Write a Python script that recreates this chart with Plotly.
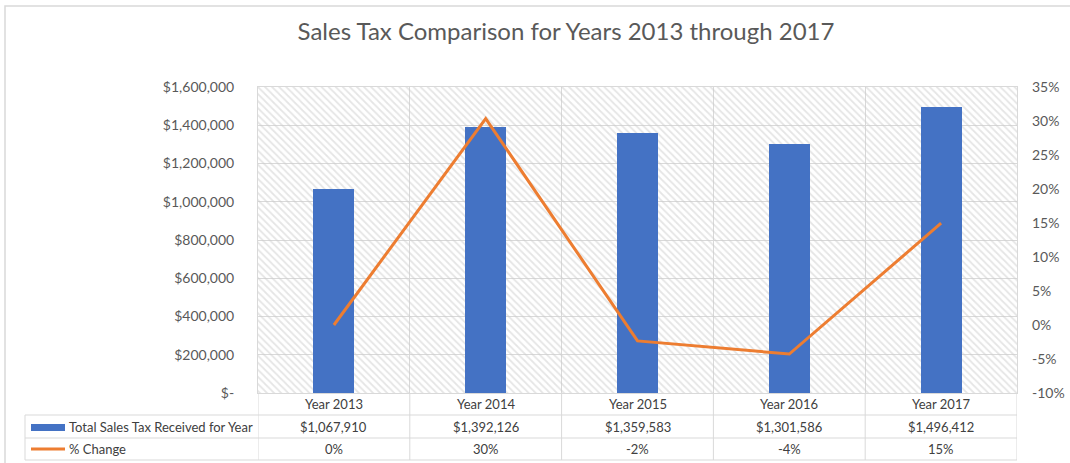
import plotly.graph_objects as go

# ---- data ----
categories = ["Year 2013", "Year 2014", "Year 2015", "Year 2016", "Year 2017"]
sales_tax = [1067910, 1392126, 1359583, 1301586, 1496412]
pct_change = [0.0, 0.3036, -0.0234, -0.0427, 0.1497]
sales_labels = ["$1,067,910", "$1,392,126", "$1,359,583", "$1,301,586", "$1,496,412"]
pct_labels = ["0%", "30%", "-2%", "-4%", "15%"]
series_names = ["Total Sales Tax Received for Year", "% Change"]
left_ticks = [0, 200000, 400000, 600000, 800000, 1000000, 1200000, 1400000, 1600000]
left_ticktext = ["$-", "$200,000", "$400,000", "$600,000", "$800,000",
                 "$1,000,000", "$1,200,000", "$1,400,000", "$1,600,000"]
right_ticks = [-0.10, -0.05, 0.0, 0.05, 0.10, 0.15, 0.20, 0.25, 0.30, 0.35]
right_ticktext = ["-10%", "-5%", "0%", "5%", "10%", "15%", "20%", "25%", "30%", "35%"]
title_text = "Sales Tax Comparison for Years 2013 through 2017"

# ---- style ----
W, H = 1070, 463
L, R, T, B = 258, 1017, 87, 393
BLUE = "#4472C4"
ORANGE = "#ED7D31"
GRID = "#d9d9d9"
TXT = "#595959"
FONT = "Lato"


def xp(px):
    return (px - L) / (R - L)


def yp(py):
    return (B - py) / (B - T)


n = len(categories)
xs = list(range(n))
y_range = [left_ticks[0], left_ticks[-1]]

fig = go.Figure()

# hatched plot-area background (decoration)
fig.add_trace(go.Bar(
    x=[(n - 1) / 2], y=[y_range[1] - y_range[0]], base=[y_range[0]], width=[n],
    marker=dict(color="rgba(0,0,0,0)", line=dict(width=0),
                pattern=dict(shape="\\", fgcolor="#cccccc", bgcolor="rgba(0,0,0,0)",
                             size=5, solidity=0.35)),
    hoverinfo="skip", showlegend=False,
))

fig.add_trace(go.Bar(
    x=xs, y=sales_tax, width=0.27, name=series_names[0],
    marker=dict(color=BLUE, line=dict(width=0)), showlegend=False,
))

fig.add_trace(go.Scatter(
    x=xs, y=pct_change, yaxis="y2", mode="lines", name=series_names[1],
    line=dict(color=ORANGE, width=3), showlegend=False,
))

fig.update_layout(
    width=W, height=H,
    margin=dict(l=L, r=W - R, t=T, b=H - B, pad=0, autoexpand=False),
    paper_bgcolor="white", plot_bgcolor="white",
    barmode="overlay", bargap=0,
    font=dict(family=FONT, color=TXT, size=14),
    title=dict(text=title_text, xref="container", yref="container",
               x=566 / W, y=1 - 32 / H, xanchor="center", yanchor="middle",
               font=dict(size=24, color=TXT, family=FONT)),
    xaxis=dict(range=[-0.5, n - 0.5], tickvals=[i - 0.5 for i in range(n + 1)],
               showticklabels=False, showgrid=True, gridcolor=GRID, gridwidth=1,
               showline=True, linecolor=GRID, mirror=True, zeroline=False, ticks="",
               automargin=False),
    yaxis=dict(range=y_range, tickvals=left_ticks, ticktext=left_ticktext,
               showgrid=True, gridcolor=GRID, gridwidth=1, zeroline=False,
               showline=True, linecolor=GRID, mirror=True, ticks="", automargin=False,
               ticklabelstandoff=20, tickfont=dict(size=14, color=TXT)),
    yaxis2=dict(range=[right_ticks[0], right_ticks[-1]], tickvals=right_ticks,
                ticktext=right_ticktext, overlaying="y", side="right", automargin=False,
                showgrid=False, zeroline=False, showline=False, ticks="",
                ticklabelstandoff=14, tickfont=dict(size=14, color=TXT)),
)

shapes = []
line_style = dict(color=GRID, width=1)
# outer chart border
shapes.append(dict(type="rect", xref="paper", yref="paper",
                   x0=xp(5), x1=xp(W + 20), y0=yp(H + 20), y1=yp(6),
                   line=dict(color=GRID, width=1.5), fillcolor="rgba(0,0,0,0)", layer="below"))
# table horizontal lines
row_lines = [415, 438, 460]
for ry in row_lines:
    shapes.append(dict(type="line", xref="paper", yref="paper",
                       x0=xp(25), x1=1, y0=yp(ry), y1=yp(ry), line=line_style))
# legend column left edge
shapes.append(dict(type="line", xref="paper", yref="paper",
                   x0=xp(25), x1=xp(25), y0=yp(460), y1=yp(415), line=line_style))
# column dividers
for i in range(n + 1):
    shapes.append(dict(type="line", xref="x", yref="paper",
                       x0=i - 0.5, x1=i - 0.5, y0=yp(460), y1=0, line=line_style))
# legend keys
shapes.append(dict(type="rect", xref="paper", yref="paper",
                   x0=xp(31), x1=xp(65), y0=yp(431), y1=yp(424),
                   fillcolor=BLUE, line=dict(width=0)))
shapes.append(dict(type="line", xref="paper", yref="paper",
                   x0=xp(31), x1=xp(65), y0=yp(449), y1=yp(449),
                   line=dict(color=ORANGE, width=3)))

annotations = []
tfont = dict(family=FONT, size=13, color="#404040")
for i in range(n):
    for text, ry in ((categories[i], 404), (sales_labels[i], 427), (pct_labels[i], 449)):
        annotations.append(dict(x=i, y=yp(ry), xref="x", yref="paper", text=text,
                                showarrow=False, xanchor="center", yanchor="middle", font=tfont))
annotations.append(dict(x=xp(67), y=yp(427), xref="paper", yref="paper", text=series_names[0],
                        showarrow=False, xanchor="left", yanchor="middle", font=tfont))
annotations.append(dict(x=xp(67), y=yp(449), xref="paper", yref="paper", text=series_names[1],
                        showarrow=False, xanchor="left", yanchor="middle", font=tfont))

fig.update_layout(shapes=shapes, annotations=annotations)

fig.write_html("out.html", config={"displayModeBar": False},
               post_script="document.body.style.margin='0';document.body.style.overflow='hidden';")
